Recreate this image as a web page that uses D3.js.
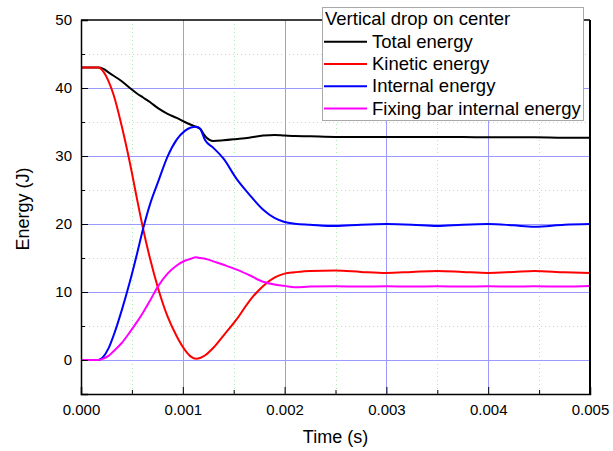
<!DOCTYPE html>
<html>
<head>
<meta charset="utf-8">
<script src="https://cdn.jsdelivr.net/npm/d3@7"></script>
<style>
  body { margin: 0; background: #fff; }
  svg { font-family: "Liberation Sans", Arial, sans-serif; }
</style>
</head>
<body>
<div id="main"></div>
<script>
const ctx = {
    w: 613,
    h: 451,
    left: 81,
    top: 20,
    right: 590,
    bottom: 394
}

// time in ms (axis shows seconds)
const timeMs = [0, 0.1, 0.17, 0.22, 0.27, 0.32, 0.4, 0.48, 0.55, 0.61, 0.68, 0.76, 0.85, 0.94, 1.02, 1.08, 1.13, 1.17, 1.22, 1.3, 1.4, 1.53, 1.65, 1.79, 1.9, 2.0, 2.1, 2.25, 2.5, 2.75, 3.0, 3.25, 3.5, 3.75, 4.0, 4.25, 4.45, 4.75, 5.0]

const totalEnergy = [43, 43, 43, 42.8, 42.3, 41.8, 41.0, 40.0, 39.2, 38.6, 37.9, 37.0, 36.2, 35.6, 35.0, 34.6, 34.3, 34.0, 32.9, 32.2, 32.3, 32.5, 32.7, 33.0, 33.1, 33.0, 32.95, 32.9, 32.8, 32.8, 32.8, 32.8, 32.8, 32.8, 32.75, 32.75, 32.75, 32.7, 32.7]
const kineticEnergy = [43, 43, 43, 42.4, 41.0, 39.0, 34.4, 29.0, 23.7, 19.3, 14.8, 10.4, 6.4, 3.5, 1.5, 0.5, 0.2, 0.3, 0.7, 1.8, 3.6, 6.0, 8.6, 10.9, 12.1, 12.7, 12.9, 13.1, 13.15, 12.95, 12.8, 12.95, 13.1, 12.95, 12.8, 12.95, 13.1, 12.9, 12.8]
const internalEnergy = [0, 0, 0, 0.5, 1.7, 3.6, 7.3, 11.5, 15.6, 19.3, 23.0, 26.3, 29.9, 32.4, 33.7, 34.2, 34.3, 34.0, 32.3, 31.2, 29.6, 26.6, 24.4, 22.1, 20.9, 20.3, 20.05, 19.9, 19.7, 19.9, 20.0, 19.9, 19.7, 19.9, 20.0, 19.8, 19.6, 19.9, 20.0]
const fixingBarEnergy = [0, 0, 0, 0.2, 0.6, 1.3, 2.5, 4.1, 5.6, 7.0, 8.8, 10.9, 12.7, 13.9, 14.6, 14.9, 15.1, 15.0, 14.9, 14.5, 14.0, 13.3, 12.5, 11.5, 11.1, 10.9, 10.7, 10.8, 10.85, 10.8, 10.85, 10.8, 10.85, 10.8, 10.85, 10.8, 10.85, 10.8, 10.9]

const seriesNames = ['Total energy', 'Kinetic energy', 'Internal energy', 'Fixing bar internal energy']
const seriesColors = ['#000000', '#ff0000', '#0000ff', '#ff00ff']
const legendTitle = 'Vertical drop on center'

const xTicks = [0, 0.001, 0.002, 0.003, 0.004, 0.005]
const xMinorTicks = [0.0005, 0.0015, 0.0025, 0.0035, 0.0045]
const yTicks = [0, 10, 20, 30, 40, 50]
const yMinorTicks = [-5, 5, 15, 25, 35, 45]

function createViz() {
    let svg = d3.select('#main').append('svg')
        .attr('width', ctx.w)
        .attr('height', ctx.h)

    let x = d3.scaleLinear().domain([0, 0.005]).range([ctx.left, ctx.right])
    let y = d3.scaleLinear().domain([-5, 50]).range([ctx.bottom, ctx.top])

    // grid
    let grid = svg.append('g')
    grid.selectAll('line.minx').data(xMinorTicks).join('line')
        .attr('x1', d => Math.round(x(d)) + 0.5).attr('x2', d => Math.round(x(d)) + 0.5)
        .attr('y1', ctx.top).attr('y2', ctx.bottom)
        .attr('stroke', '#a8eea8').attr('stroke-dasharray', '1,3')
    grid.selectAll('line.miny').data(yMinorTicks.filter(d => d > -5)).join('line')
        .attr('y1', d => Math.round(y(d)) + 0.5).attr('y2', d => Math.round(y(d)) + 0.5)
        .attr('x1', ctx.left).attr('x2', ctx.right)
        .attr('stroke', '#a8eea8').attr('stroke-dasharray', '1,3')
    grid.selectAll('line.majx').data(xTicks.slice(1, -1)).join('line')
        .attr('x1', d => Math.round(x(d)) + 0.5).attr('x2', d => Math.round(x(d)) + 0.5)
        .attr('y1', ctx.top).attr('y2', ctx.bottom)
        .attr('stroke', '#9a9aff')
    grid.selectAll('line.majy').data(yTicks.slice(0, -1)).join('line')
        .attr('y1', d => Math.round(y(d)) + 0.5).attr('y2', d => Math.round(y(d)) + 0.5)
        .attr('x1', ctx.left).attr('x2', ctx.right)
        .attr('stroke', '#9a9aff')

    // lines
    let allSeries = [totalEnergy, kineticEnergy, internalEnergy, fixingBarEnergy]
    let line = d3.line()
        .x((d, i) => x(timeMs[i] / 1000))
        .y(d => y(d))
        .curve(d3.curveMonotoneX)
    svg.append('g').selectAll('path')
        .data(allSeries)
        .join('path')
        .attr('d', d => line(d))
        .attr('fill', 'none')
        .attr('stroke', (d, i) => seriesColors[i])
        .attr('stroke-width', 2)

    // axes
    let fmt = d3.format('.3f')
    svg.append('g')
        .attr('transform', `translate(0,${ctx.bottom})`)
        .call(d3.axisBottom(x).tickValues(xTicks).tickFormat(fmt).tickSize(-7).tickPadding(10))
        .call(g => g.select('.domain').attr('stroke-width', 1.5))
    svg.append('g')
        .attr('transform', `translate(0,${ctx.bottom})`)
        .call(d3.axisBottom(x).tickValues(xMinorTicks).tickFormat('').tickSize(-4))
        .call(g => g.select('.domain').remove())
    svg.append('g')
        .attr('transform', `translate(${ctx.left},0)`)
        .call(d3.axisLeft(y).tickValues(yTicks).tickSize(-7).tickPadding(9))
        .call(g => g.select('.domain').attr('stroke-width', 1.5))
    svg.append('g')
        .attr('transform', `translate(${ctx.left},0)`)
        .call(d3.axisLeft(y).tickValues(yMinorTicks).tickFormat('').tickSize(-4))
        .call(g => g.select('.domain').remove())
    svg.selectAll('.tick text')
        .attr('font-size', 15)
        .attr('font-family', '"Liberation Sans", Arial, sans-serif')
        .attr('fill', '#000')

    // top and right frame
    svg.append('line')
        .attr('x1', ctx.left).attr('x2', ctx.right)
        .attr('y1', ctx.top).attr('y2', ctx.top)
        .attr('stroke', '#000').attr('stroke-width', 1.5)
    svg.append('line')
        .attr('x1', ctx.right).attr('x2', ctx.right)
        .attr('y1', ctx.top).attr('y2', ctx.bottom)
        .attr('stroke', '#000').attr('stroke-width', 2)

    // axis titles
    svg.append('text')
        .attr('x', (ctx.left + ctx.right) / 2)
        .attr('y', 443)
        .attr('text-anchor', 'middle')
        .attr('font-size', 18)
        .text('Time (s)')
    svg.append('text')
        .attr('transform', 'translate(29,209) rotate(-90)')
        .attr('text-anchor', 'middle')
        .attr('font-size', 18)
        .text('Energy (J)')

    // legend
    let lg = svg.append('g').attr('transform', 'translate(322,7)')
    lg.append('rect')
        .attr('x', 0.5).attr('y', 0.5)
        .attr('width', 261).attr('height', 113)
        .attr('fill', '#fff')
        .attr('stroke', '#a8a8a8')
    lg.append('text')
        .attr('x', 3).attr('y', 18)
        .attr('font-size', 18.5)
        .text(legendTitle)
    let items = lg.selectAll('g.item')
        .data(seriesNames)
        .join('g')
        .attr('transform', (d, i) => `translate(0,${34.7 + i * 22.3})`)
    items.append('line')
        .attr('x1', 2).attr('x2', 45)
        .attr('stroke', (d, i) => seriesColors[i])
        .attr('stroke-width', 2)
    items.append('text')
        .attr('x', 50).attr('y', 6)
        .attr('font-size', 18.5)
        .text(d => d)
}

createViz()
</script>
</body>
</html>
